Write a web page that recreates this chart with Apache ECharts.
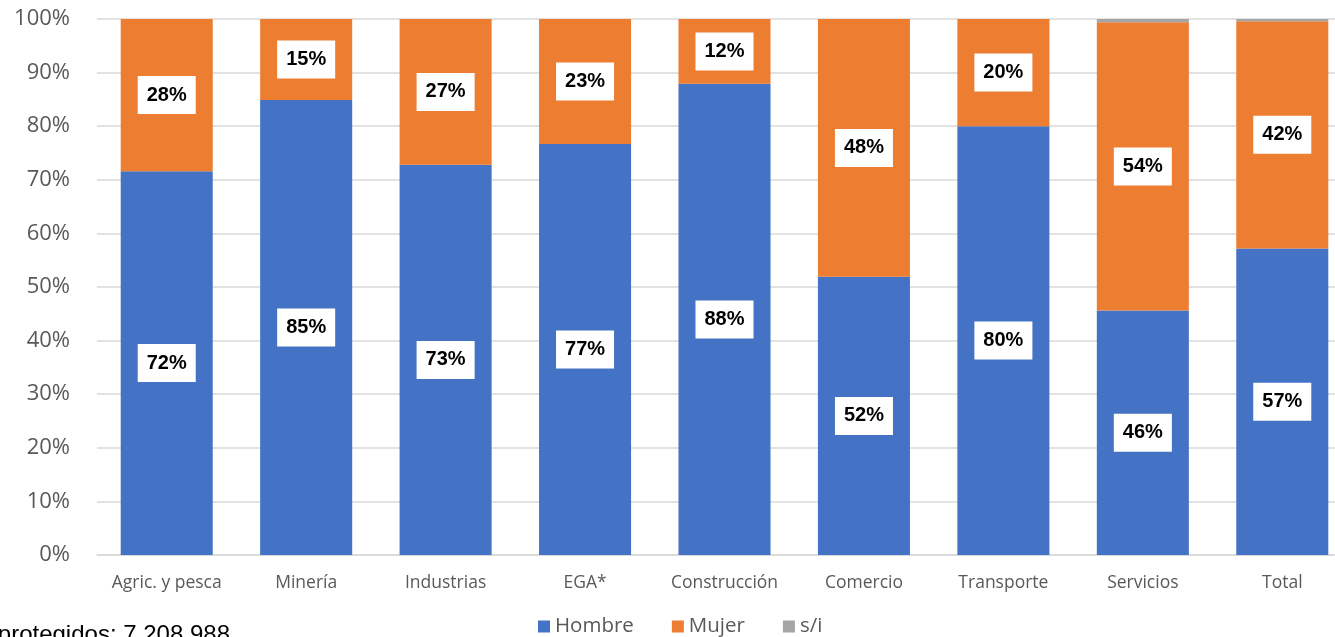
<!DOCTYPE html>
<html><head><meta charset="utf-8">
<script src="https://cdn.jsdelivr.net/npm/echarts@6/dist/echarts.min.js"></script>
<style>html,body{margin:0;padding:0;background:#fff}#c{width:1335px;height:637px}</style>
</head><body><div id="c"></div>
<script>
const categories = ['Agric. y pesca','Minería','Industrias','EGA*','Construcción','Comercio','Transporte','Servicios','Total'];
const hombre = [71.6, 84.9, 72.8, 76.7, 87.9, 51.9, 80.0, 45.6, 57.2];
const mujer  = [28.4, 15.1, 27.2, 23.3, 12.1, 48.1, 20.0, 53.8, 42.4];
const si     = [0, 0, 0, 0, 0, 0, 0, 0.6, 0.4];
const yTicks = [0,10,20,30,40,50,60,70,80,90,100];
const footnote = 'Trabajadores protegidos: 7.208.988';

const font = '"Open Sans", "Noto Sans", sans-serif';
const lbl = {
  show: true, position: 'inside',
  formatter: p => Math.round(p.value) + '%',
  backgroundColor: '#fff', color: '#000', fontWeight: 'bold',
  fontFamily: 'Liberation Sans, Arial, sans-serif', fontSize: 20,
  padding: [10, 9, 8, 9]
};
const chart = echarts.init(document.getElementById('c'));
chart.setOption({
  animation: false,
  grid: { left: 97, width: 1255, top: 19, bottom: 82, containLabel: false, outerBoundsMode: 'none' },
  legend: {
    top: 611, left: 533, itemWidth: 12, itemHeight: 12, itemGap: 38,
    icon: 'rect',
    textStyle: { color: '#595959', fontSize: 20.5, fontFamily: font },
    data: ['Hombre','Mujer','s/i']
  },
  xAxis: {
    type: 'category', data: categories,
    axisTick: { show: false },
    axisLine: { lineStyle: { color: '#d9d9d9', width: 1.5 } },
    axisLabel: { color: '#595959', fontSize: 17.5, fontFamily: font, margin: 19, interval: 0 }
  },
  yAxis: {
    type: 'value', min: 0, max: 100, interval: 10,
    axisLabel: { color: '#595959', fontSize: 22, fontFamily: font, margin: 27,
      formatter: v => yTicks.includes(v) ? v + '%' : '' },
    splitLine: { lineStyle: { color: '#d9d9d9', width: 1.5 } },
    axisLine: { show: false }, axisTick: { show: false }
  },
  series: [
    { name: 'Hombre', type: 'bar', stack: 's', data: hombre, barWidth: '66%',
      itemStyle: { color: '#4472C4' }, label: lbl },
    { name: 'Mujer', type: 'bar', stack: 's', data: mujer,
      itemStyle: { color: '#ED7D31' }, label: lbl },
    { name: 's/i', type: 'bar', stack: 's', data: si,
      itemStyle: { color: '#A5A5A5' } }
  ],
  graphic: [{
    type: 'text', x: 230, y: 623,
    style: { text: footnote, fill: '#000', fontSize: 24,
      fontFamily: 'Liberation Sans, Arial, sans-serif', textAlign: 'right', textVerticalAlign: 'top' }
  }]
});
</script></body></html>
